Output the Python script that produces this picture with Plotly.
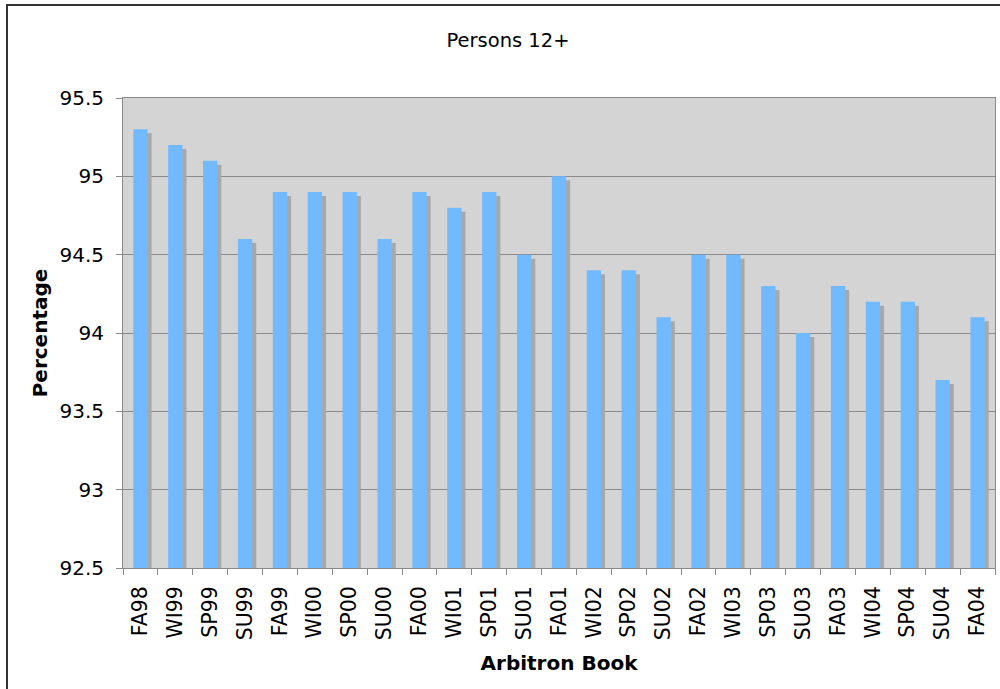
import plotly.graph_objects as go

categories = ["FA98", "WI99", "SP99", "SU99", "FA99", "WI00", "SP00", "SU00", "FA00",
              "WI01", "SP01", "SU01", "FA01", "WI02", "SP02", "SU02", "FA02", "WI03",
              "SP03", "SU03", "FA03", "WI04", "SP04", "SU04", "FA04"]
values = [95.3, 95.2, 95.1, 94.6, 94.9, 94.9, 94.9, 94.6, 94.9, 94.8, 94.9, 94.5,
          95.0, 94.4, 94.4, 94.1, 94.5, 94.5, 94.3, 94.0, 94.3, 94.2, 94.2, 93.7, 94.1]
y_ticks = [92.5, 93, 93.5, 94, 94.5, 95, 95.5]
y_tick_labels = ["92.5", "93", "93.5", "94", "94.5", "95", "95.5"]

Y_MIN, Y_MAX = 92.5, 95.5
W, H = 1000, 689
ML, MR, MT, MB = 123, 5, 98, 121
pw, ph = W - ML - MR, H - MT - MB

bar_w = 0.41
dx = 4 / (pw / len(categories))
dy = 4 * (Y_MAX - Y_MIN) / ph

fig = go.Figure()
fig.add_trace(go.Bar(
    x=categories, y=[v - dy - Y_MIN for v in values], base=Y_MIN,
    width=bar_w, offset=-bar_w / 2 + dx,
    marker=dict(color="#a8a8a8", line=dict(width=0)),
    hoverinfo="skip", showlegend=False))
fig.add_trace(go.Bar(
    x=categories, y=[v - Y_MIN for v in values], base=Y_MIN,
    width=bar_w, offset=-bar_w / 2,
    marker=dict(color="#72baff", line=dict(width=0)),
    showlegend=False, customdata=values, hovertemplate="%{x}: %{customdata}<extra></extra>"))

font = "DejaVu Sans, Verdana, sans-serif"
fig.update_layout(
    width=W, height=H,
    margin=dict(l=ML, r=MR, t=MT, b=MB),
    barmode="overlay",
    paper_bgcolor="white", plot_bgcolor="#d4d4d4",
    font=dict(family=font, color="black", size=18),
    title=dict(text="Persons 12+", x=508 / W, xanchor="center", y=1 - 40 / H, yanchor="middle",
               font=dict(size=19.5, family=font)),
    xaxis=dict(
        tickangle=-90, tickfont=dict(size=20.5),
        showline=True, linecolor="#8a8a8a", linewidth=1, mirror=True,
        ticks="outside", ticklen=6, tickcolor="#8a8a8a", tickson="boundaries",
        ticklabelstandoff=9,
        showgrid=False,
        title=dict(text="<b>Arbitron Book</b>", font=dict(size=20), standoff=16),
    ),
    yaxis=dict(
        range=[Y_MIN, Y_MAX], tickvals=y_ticks, ticktext=y_tick_labels,
        tickfont=dict(size=20),
        showline=True, linecolor="#8a8a8a", linewidth=1, mirror=True,
        ticks="outside", ticklen=6, tickcolor="#8a8a8a",
        ticklabelstandoff=8,
        showgrid=True, gridcolor="#8a8a8a", gridwidth=1, zeroline=False,
        title=dict(text="<b>Percentage</b>", font=dict(size=20), standoff=6),
    ),
    shapes=[
        dict(type="rect", xref="paper", yref="paper",
             x0=(7 - ML) / pw, x1=(1010 - ML) / pw,
             y0=1 - (700 - MT) / ph, y1=1 + (MT - 5) / ph,
             line=dict(color="#333333", width=2), fillcolor="rgba(0,0,0,0)", layer="above"),
    ],
)

fig.write_html("out.html", config={"displayModeBar": False},
               post_script="document.body.style.margin='0';document.body.style.overflow='hidden';")
